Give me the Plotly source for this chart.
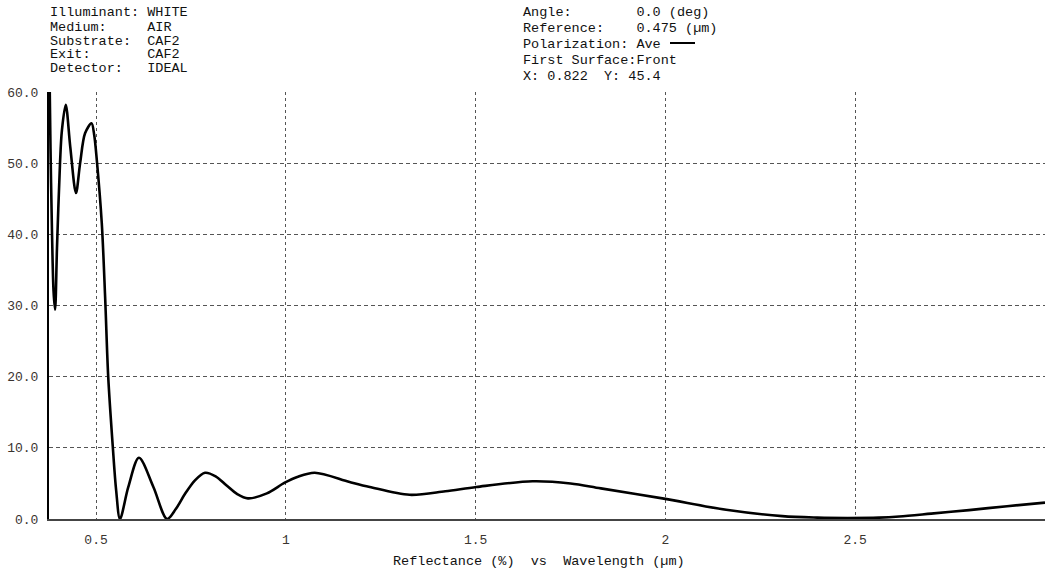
import plotly.graph_objects as go

# ---- data ----
wavelength_um = [0.376, 0.380, 0.384, 0.388, 0.392, 0.397, 0.405, 0.410, 0.420, 0.432,
                 0.447, 0.458, 0.471, 0.488, 0.495, 0.502, 0.515, 0.524, 0.532, 0.544,
                 0.553, 0.563, 0.585, 0.613, 0.651, 0.687, 0.710, 0.734, 0.760, 0.787,
                 0.815, 0.844, 0.872, 0.900, 0.950, 0.997, 1.030, 1.076, 1.168, 1.221,
                 1.326, 1.420, 1.502, 1.650, 1.750, 1.830, 1.992, 2.160, 2.308, 2.400,
                 2.480, 2.563, 2.616, 2.700, 2.800, 2.900, 3.000]
reflectance_pct = [68.0, 52.0, 40.0, 32.0, 29.4, 38.0, 50.0, 54.6, 58.2, 52.3,
                   45.8, 50.0, 54.2, 55.6, 54.0, 50.4, 41.6, 31.0, 20.0, 10.2,
                   4.0, 0.0, 4.5, 8.6, 4.5, 0.0, 1.4, 3.5, 5.4, 6.5,
                   6.0, 4.7, 3.5, 2.9, 3.6, 5.1, 5.9, 6.5, 5.2, 4.5,
                   3.4, 3.9, 4.5, 5.3, 5.0, 4.3, 2.9, 1.3, 0.4, 0.2,
                   0.15, 0.2, 0.35, 0.75, 1.25, 1.8, 2.3]

x_ticks = [0.5, 1, 1.5, 2, 2.5, 3]
x_tick_labels = ["0.5", "1", "1.5", "2", "2.5", "3"]
y_ticks = [0, 10, 20, 30, 40, 50, 60]
y_tick_labels = ["0.0", "10.0", "20.0", "30.0", "40.0", "50.0", "60.0"]

left_header = ["Illuminant: WHITE", "Medium:     AIR", "Substrate:  CAF2",
               "Exit:       CAF2", "Detector:   IDEAL"]
right_header = ["Angle:        0.0 (deg)", "Reference:    0.475 (\u00b5m)",
                "Polarization: Ave", "First Surface:Front", "X: 0.822  Y: 45.4"]
x_title = "Reflectance (%)  vs  Wavelength (\u00b5m)"

FONT = "Liberation Mono, Courier New, monospace"

W, H = 1045, 571
L, R, T, B = 49, 0, 92, 52
PW, PH = W - L - R, H - T - B


def px_x(p):
    return (p - L) / PW


def px_y(p):
    return (H - B - p) / PH


fig = go.Figure()
fig.add_trace(go.Scatter(
    x=wavelength_um, y=reflectance_pct, mode="lines",
    line=dict(color="black", width=2.6, shape="spline", smoothing=0.9),
    showlegend=False, hoverinfo="x+y"))

annotations = []
left_y = [12, 27, 41, 55, 69]
for txt, py in zip(left_header, left_y):
    annotations.append(dict(text=txt, xref="paper", yref="paper", x=px_x(48), y=px_y(py),
                            xanchor="left", yanchor="middle", showarrow=False,
                            font=dict(family=FONT, size=13.5, color="#111111")))
right_y = [12, 28, 44, 61, 77]
for txt, py in zip(right_header, right_y):
    annotations.append(dict(text=txt, xref="paper", yref="paper", x=px_x(521), y=px_y(py),
                            xanchor="left", yanchor="middle", showarrow=False,
                            font=dict(family=FONT, size=13.5, color="#111111")))
annotations.append(dict(text=x_title, xref="paper", yref="paper", x=px_x(539), y=px_y(561),
                        xanchor="center", yanchor="middle", showarrow=False,
                        font=dict(family=FONT, size=13.5, color="#111111")))

shapes = [dict(type="line", xref="paper", yref="paper",
               x0=px_x(670), x1=px_x(695), y0=px_y(43), y1=px_y(43),
               line=dict(color="black", width=2))]

fig.update_layout(
    width=W, height=H,
    margin=dict(l=L, r=R, t=T, b=B, pad=0),
    paper_bgcolor="white", plot_bgcolor="white",
    annotations=annotations, shapes=shapes,
    xaxis=dict(range=[0.376, 3.0], tickmode="array", tickvals=x_ticks, ticktext=x_tick_labels,
               showgrid=True, gridcolor="#555555", gridwidth=1, griddash="3px,3px",
               zeroline=False, showline=True, linecolor="#444444", linewidth=1.5,
               ticks="", ticklabelstandoff=8,
               tickfont=dict(family=FONT, size=13, color="#3a3430")),
    yaxis=dict(range=[0, 60], tickmode="array", tickvals=y_ticks, ticktext=y_tick_labels,
               showgrid=True, gridcolor="#555555", gridwidth=1, griddash="4px,3px",
               zeroline=False, showline=True, linecolor="black", linewidth=2,
               ticks="", ticklabelstandoff=6,
               tickfont=dict(family=FONT, size=13, color="#3a3430")),
)

# remove the browser's default 8px body margin so the figure fills the window exactly
fig.write_html("out.html",
               config={"displayModeBar": False},
               post_script="document.body.style.margin='0px';"
                           "document.body.style.overflow='hidden';")
